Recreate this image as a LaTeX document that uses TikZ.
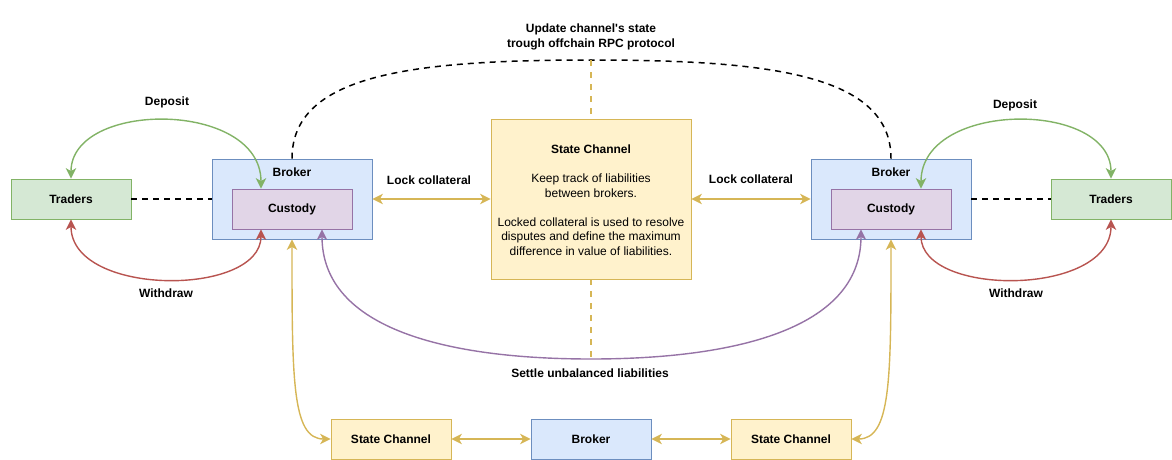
\documentclass[tikz,border=0pt]{standalone}
\usepackage{fontspec}
\setmainfont{Liberation Sans}[Ligatures=TeXOff]
\usetikzlibrary{arrows.meta,calc}
\definecolor{gfill}{HTML}{D5E8D4}\definecolor{gline}{HTML}{82B366}
\definecolor{bfill}{HTML}{DAE8FC}\definecolor{bline}{HTML}{6C8EBF}
\definecolor{pfill}{HTML}{E1D5E7}\definecolor{pline}{HTML}{9673A6}
\definecolor{yfill}{HTML}{FFF2CC}\definecolor{yline}{HTML}{D6B656}
\definecolor{rline}{HTML}{B85450}
\tikzset{
  box/.style={draw, line width=0.8pt, inner sep=0pt, minimum width=120pt, minimum height=40pt,
    font=\bfseries\fontsize{12}{14.5}\selectfont},
  greenbox/.style={box, fill=gfill, draw=gline},
  bluebox/.style={box, fill=bfill, draw=bline},
  purplebox/.style={box, fill=pfill, draw=pline},
  yellowbox/.style={box, fill=yfill, draw=yline},
  lbl/.style={font=\bfseries\fontsize{12}{14.5}\selectfont, inner sep=0pt, align=center},
  both/.style={{Stealth[length=10.5pt,width=10.5pt,inset=3pt]}-{Stealth[length=10.5pt,width=10.5pt,inset=3pt]}},
  conn/.style={line width=1.4pt},
  blackdash/.style={line width=1.5pt, dash pattern=on 6pt off 5pt},
  ydash/.style={line width=1.4pt, draw=yline, dash pattern=on 6pt off 6pt},
}
\begin{document}
\begin{tikzpicture}[x=1pt,y=-1pt]
\useasboundingbox (0,0) rectangle (1172,460);

% boxes
\node[greenbox] (trL) at (71,199) {Traders};
\node[greenbox] (trR) at (1111,199) {Traders};
\node[bluebox, minimum width=160pt, minimum height=80pt] (brL) at (292,199) {};
\node[bluebox, minimum width=160pt, minimum height=80pt] (brR) at (891,199) {};
\node[lbl] (brLl) at (292,172.5) {Broker};
\node[lbl] (brRl) at (891,172.5) {Broker};
\node[purplebox] (cuL) at (292,209) {Custody};
\node[purplebox] (cuR) at (891,209) {Custody};
\node[yellowbox, minimum width=200pt, minimum height=160pt] (sc) at (591,199) {};
\node[inner sep=0pt, align=center, font=\fontsize{12}{14.5}\selectfont] (sctext) at (591,200)
  {\textbf{State Channel}\\[14.5pt]Keep track of liabilities\\between brokers.\\[14.5pt]Locked collateral is used to resolve\\disputes and define the maximum\\difference in value of liabilities.};
\node[yellowbox] (scB1) at (391,439) {State Channel};
\node[bluebox] (brB) at (591,439) {Broker};
\node[yellowbox] (scB2) at (791,439) {State Channel};

% coordinates
\coordinate (topL) at ($(brL.north)$);
\coordinate (topR) at ($(brR.north)$);
\coordinate (apex) at (591,60);
\coordinate (bot) at (591,359);

% dashed black connections
\draw[blackdash] (trL.east) -- (brL.west);
\draw[blackdash] (brR.east) -- (trR.west);
\draw[blackdash] (topL) .. controls (292,75) and (410,60) .. (apex)
   .. controls (772,60) and (891,75) .. (topR);

% yellow dashed vertical
\draw[ydash] (apex) -- (sc.north);
\draw[ydash] (sc.south) -- (bot);

% deposit / withdraw left
\draw[conn, color=gline, both] (trL.north) .. controls (71,100) and (261,100) .. ([xshift=-31pt]cuL.north);
\draw[conn, color=rline, both] (trL.south) .. controls (71,297) and (261,297) .. ([xshift=-31pt]cuL.south);
% deposit / withdraw right
\draw[conn, color=gline, both] ([xshift=30pt]cuR.north) .. controls (921,100) and (1111,100) .. (trR.north);
\draw[conn, color=rline, both] ([xshift=30pt]cuR.south) .. controls (921,297) and (1111,297) .. (trR.south);

% lock collateral
\draw[conn, color=yline, both] (brL.east) -- (sc.west);
\draw[conn, color=yline, both] (sc.east) -- (brR.west);

% settle
\draw[conn, color=pline, both] ([xshift=30pt]cuL.south) .. controls (322,330) and (450,359) .. (bot)
   .. controls (732,359) and (861,330) .. ([xshift=-30pt]cuR.south);

% bottom chain
\draw[conn, color=yline, both] (brL.south) .. controls (292,380) and (292,439) .. (scB1.west);
\draw[conn, color=yline, both] (brR.south) .. controls (891,380) and (891,439) .. (scB2.east);
\draw[conn, color=yline, both] (scB1.east) -- (brB.west);
\draw[conn, color=yline, both] (brB.east) -- (scB2.west);

% labels
\node[lbl] (dL) at (167,102) {Deposit};
\node[lbl] (wL) at (166,293) {Withdraw};
\node[lbl] (dR) at (1015,105) {Deposit};
\node[lbl] (wR) at (1016,293) {Withdraw};
\node[lbl] (lcL) at (429,180) {Lock collateral};
\node[lbl] (lcR) at (751,179) {Lock collateral};
\node[lbl] (upd) at (591,37) {Update channel's state\\trough offchain RPC protocol};
\node[lbl] (set) at (590,373) {Settle unbalanced liabilities};
\end{tikzpicture}
\end{document}
